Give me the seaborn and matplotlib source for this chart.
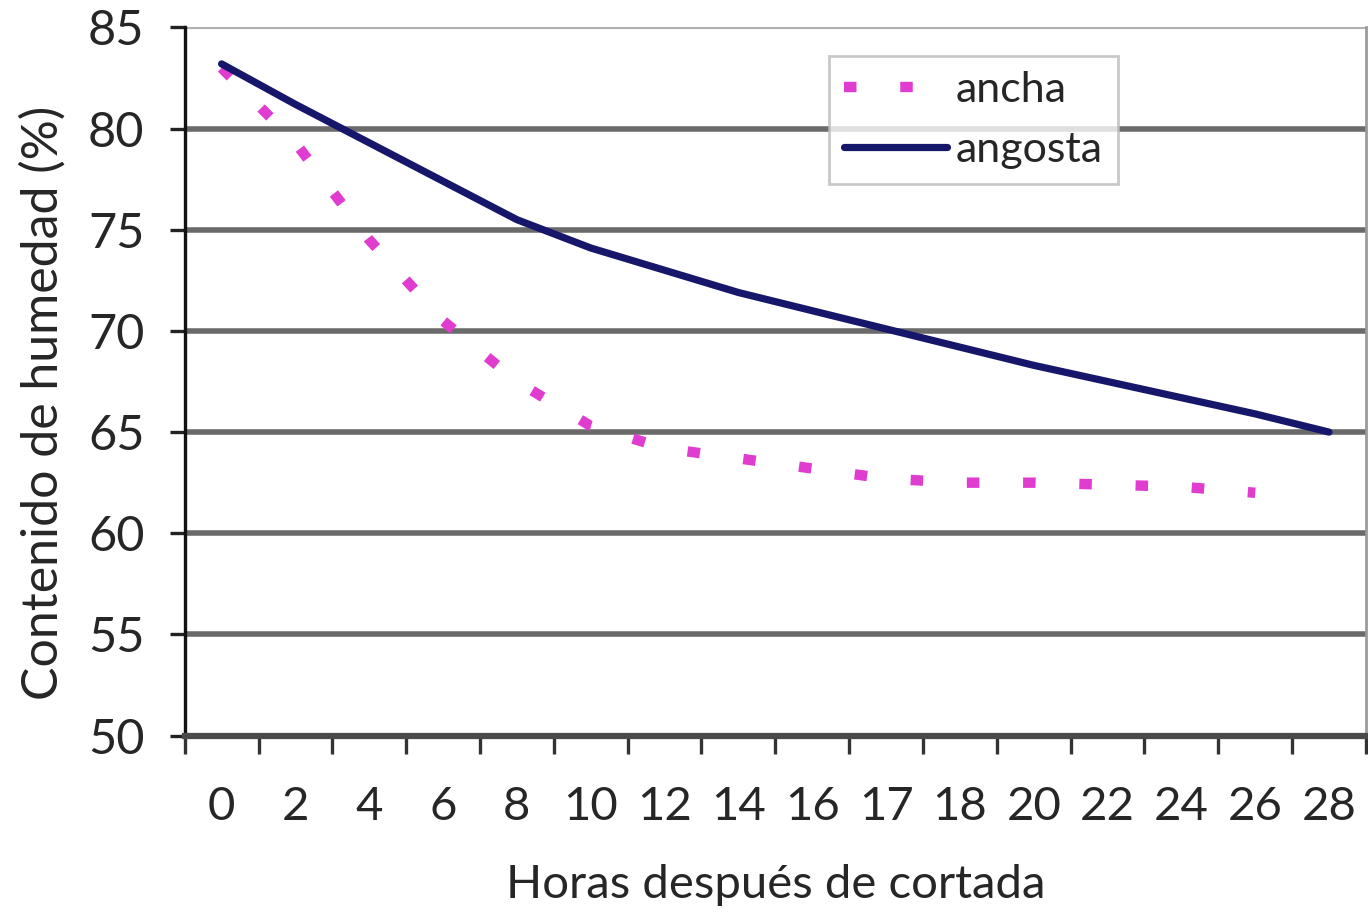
import matplotlib
matplotlib.use("Agg")
import matplotlib.pyplot as plt
import seaborn as sns
import pandas as pd
import numpy as np

# Hours after cutting (category axis) and moisture content per leaf type
horas = ["0", "2", "4", "6", "8", "10", "12", "14", "16", "17", "18", "20", "22", "24", "26", "28"]
ancha = [83.0, 79.3, 74.5, 70.5, 67.5, 65.3, 64.2, 63.7, 63.2, 62.7, 62.5, 62.5, 62.4, 62.3, 62.0, None]
angosta = [83.2, 81.2, 79.3, 77.4, 75.5, 74.1, 73.0, 71.9, 71.0, 70.1, 69.2, 68.3, 67.5, 66.7, 65.9, 65.0]

sns.set_style("white")
plt.rcParams["font.family"] = ["Lato", "DejaVu Sans"]

pos = np.arange(len(horas))
df = pd.DataFrame({"pos": pos, "ancha": ancha, "angosta": angosta})

fig = plt.figure(figsize=(13.68, 9.16), dpi=100)
ax = fig.add_axes([0.135, 0.197, 0.8635, 0.773])

# horizontal gridlines
for v in [55, 60, 65, 70, 75, 80]:
    ax.axhline(v, color="#6a6a6a", lw=4.0, zorder=1)
ax.axhline(85, color="#b0b0b0", lw=3.0, zorder=1)

sns.lineplot(data=df, x="pos", y="ancha", ax=ax, color="#e03cd0", lw=7.5,
             label="ancha", zorder=3)
ax.lines[-1].set_dashes((1.2, 4.2))
ax.lines[-1].set_dash_capstyle("butt")
sns.lineplot(data=df, x="pos", y="angosta", ax=ax, color="#16166a", lw=5.2,
             label="angosta", zorder=4)

ax.set_xlim(-0.5, len(horas) - 0.5)
ax.set_ylim(50, 85)
ax.set_yticks([50, 55, 60, 65, 70, 75, 80, 85])
ax.set_xticks(pos)
ax.set_xticklabels(horas)
ax.set_xticks(np.arange(-0.5, len(horas), 1.0), minor=True)

ax.tick_params(axis="x", which="major", bottom=True, length=0, pad=36, labelsize=34)
ax.tick_params(axis="x", which="minor", bottom=True, length=13, width=2.4,
               direction="out", color="#333333")
ax.tick_params(axis="y", which="major", left=True, length=11, width=2.4,
               direction="out", color="#222222", pad=18, labelsize=35)

ax.spines["top"].set_visible(False)
ax.spines["right"].set_color("#9a9a9a")
ax.spines["right"].set_linewidth(2)
ax.spines["left"].set_color("#111111")
ax.spines["left"].set_linewidth(2.4)
ax.spines["bottom"].set_color("#4a4a4a")
ax.spines["bottom"].set_linewidth(4.5)

ax.set_xlabel("Horas después de cortada", fontsize=34, labelpad=26)
ax.set_ylabel("Contenido de humedad (%)", fontsize=36)
ax.yaxis.set_label_coords(-0.1, 0.47)

leg = ax.legend(loc="upper left", bbox_to_anchor=(0.527, 0.99), fontsize=31,
                frameon=True, fancybox=False, handlelength=2.4, handletextpad=0.2,
                borderpad=0.35, labelspacing=0.5)
leg.get_frame().set_edgecolor("#bbbbbb")
leg.get_frame().set_linewidth(2)

fig.savefig("out.png", dpi=100)
